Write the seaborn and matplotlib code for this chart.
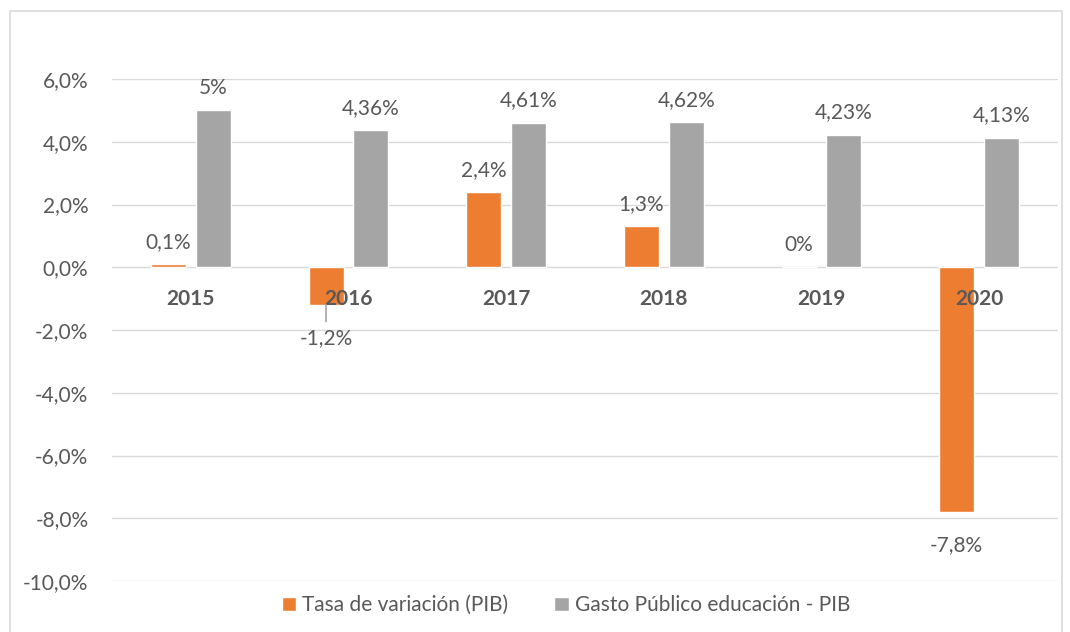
import numpy as np
import pandas as pd
import seaborn as sns
import matplotlib.pyplot as plt
from matplotlib.patches import Rectangle

# -------------------------------
# Data
# -------------------------------
years = ["2015", "2016", "2017", "2018", "2019", "2020"]
tasa_variacion = [0.1, -1.2, 2.4, 1.3, 0.0, -7.8]
gasto_educacion = [5.0, 4.36, 4.61, 4.62, 4.23, 4.13]
series_names = ["Tasa de variación (PIB)", "Gasto Público educación - PIB"]
y_ticks = [-10, -8, -6, -4, -2, 0, 2, 4, 6]

df = pd.DataFrame({
    "Año": years,
    series_names[0]: tasa_variacion,
    series_names[1]: gasto_educacion,
})
long_df = df.melt(id_vars="Año", var_name="Serie", value_name="Valor")

# -------------------------------
# Style
# -------------------------------
sns.set_style("white")
plt.rcParams["font.family"] = ["Lato", "DejaVu Sans"]
TXT = "#595959"
GRID = "#d9d9d9"
FS = 15
palette = {series_names[0]: "#ED7D31", series_names[1]: "#A5A5A5"}


def es_pct(v):
    return f"{v:g}".replace(".", ",") + "%"


fig = plt.figure(figsize=(10.7, 6.32), dpi=100)
ax = fig.add_axes([112 / 1070, 1 - 581 / 632, 946 / 1070, 502 / 632])

sns.barplot(data=long_df, x="Año", y="Valor", hue="Serie", order=years,
            hue_order=series_names, palette=palette, width=0.57, gap=0.22,
            saturation=1, ax=ax, legend=True)

ax.set_ylim(-10, 6)
ax.set_yticks(y_ticks)
ax.set_yticklabels([f"{t:.1f}".replace(".", ",") + "%" for t in y_ticks])
ax.grid(axis="y", color=GRID, linewidth=1)
ax.set_axisbelow(True)
for s in ax.spines.values():
    s.set_visible(False)
ax.tick_params(axis="y", length=0, pad=17, labelsize=FS, labelcolor=TXT)
ax.tick_params(axis="x", length=0)
ax.set_xticklabels([])
ax.set_xlabel("")
ax.set_ylabel("")

# category labels sit just under the zero line
for i, yr in enumerate(years):
    ax.text(i, -1.0, yr, ha="center", va="center", fontsize=FS,
            fontweight="bold", color=TXT)

# value labels
for container, vals in zip(ax.containers, [tasa_variacion, gasto_educacion]):
    for bar, v in zip(container, vals):
        xc = bar.get_x() + bar.get_width() / 2
        dy = 16 if v >= 0 else -24
        ax.annotate(es_pct(v), (xc, v), xytext=(0, dy),
                    textcoords="offset points", ha="center", va="center",
                    fontsize=FS, color=TXT, annotation_clip=False)

# leader line for the 2016 label (moved away from the category label)
bar16 = ax.containers[0][1]
x16 = bar16.get_x() + bar16.get_width() / 2
ax.annotate("", (x16, tasa_variacion[1]), xytext=(0, -12),
            textcoords="offset points",
            arrowprops=dict(arrowstyle="-", color="#a6a6a6", lw=1.2,
                            shrinkA=0, shrinkB=0))

# legend at the bottom
handles, labels = ax.get_legend_handles_labels()
ax.legend(handles, labels, loc="center", bbox_to_anchor=(0.48, -0.048),
          ncol=2, frameon=False, fontsize=FS, handlelength=0.7,
          handleheight=0.7, handletextpad=0.3, columnspacing=2.2,
          labelcolor=TXT)

# light outer border like the chart area in the original
fig.patches.append(Rectangle((10 / 1070, -0.05), 1052 / 1070, 1.05 - 11 / 632,
                             transform=fig.transFigure, fill=False,
                             edgecolor="#d9d9d9", linewidth=1.2))

fig.savefig("out.png", dpi=100)
